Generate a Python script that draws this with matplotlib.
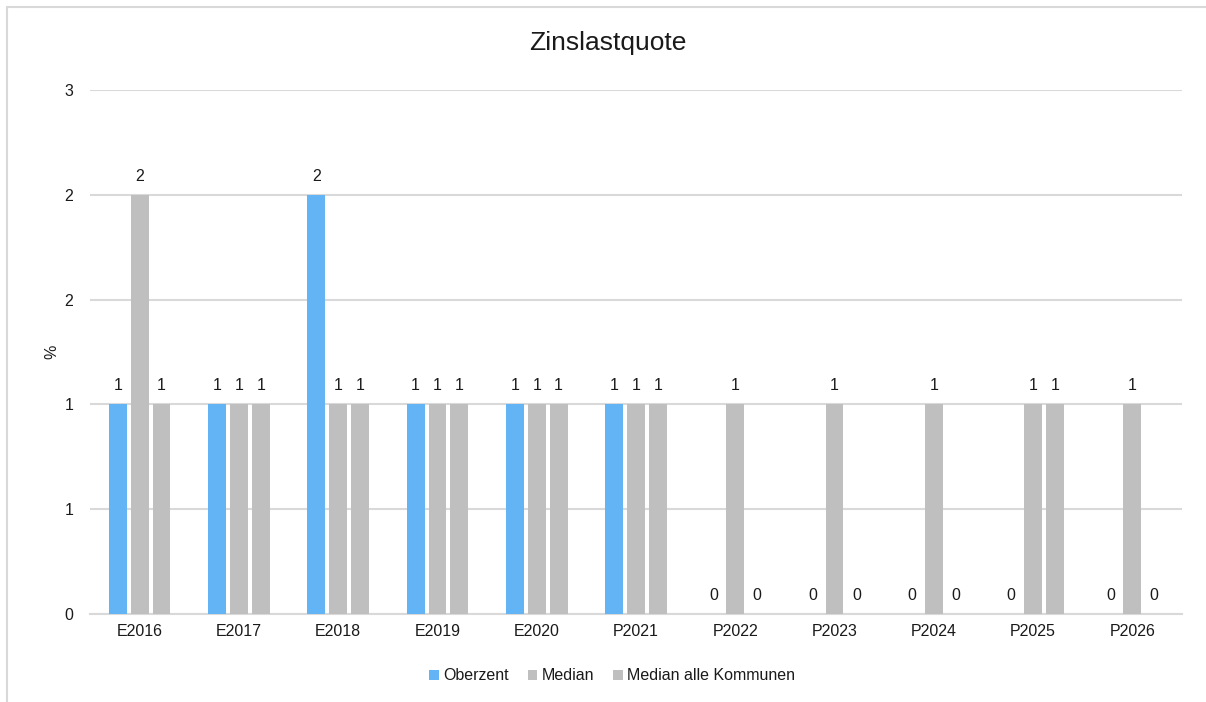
import numpy as np
import matplotlib.pyplot as plt
from matplotlib.patches import Rectangle

plt.rcParams['font.family'] = ['Liberation Sans', 'DejaVu Sans']

# data
categories = ['E2016', 'E2017', 'E2018', 'E2019', 'E2020', 'P2021',
              'P2022', 'P2023', 'P2024', 'P2025', 'P2026']
oberzent = [1, 1, 2, 1, 1, 1, 0, 0, 0, 0, 0]
median = [2, 1, 1, 1, 1, 1, 1, 1, 1, 1, 1]
median_alle = [1, 1, 1, 1, 1, 1, 0, 0, 0, 1, 0]
y_ticks = [0, 0.5, 1, 1.5, 2, 2.5]
y_tick_labels = ['0', '1', '1', '2', '2', '3']

series = [
    ('Oberzent', oberzent, '#63B4F5'),
    ('Median', median, '#BFBFBF'),
    ('Median alle Kommunen', median_alle, '#BFBFBF'),
]

text_col = '#1a1a1a'
fs = 11.5

fig = plt.figure(figsize=(12.06, 7.02), dpi=100)
# light chart border (cut off at right and bottom)
fig.patches.append(Rectangle((7 / 1206, -0.1), 1.2, 1 - 7 / 702 + 0.1,
                             transform=fig.transFigure, fill=False,
                             edgecolor='#D9D9D9', linewidth=1.5))

ax = fig.add_axes([90 / 1206, 1 - 614 / 702, 1092 / 1206, 524 / 702])

x = np.arange(len(categories))
width = 0.18
step = 0.22
for i, (name, vals, col) in enumerate(series):
    pos = x + (i - 1) * step
    ax.bar(pos, vals, width=width, color=col, label=name, zorder=3)
    for xp, v in zip(pos, vals):
        ax.annotate(f'{v:.0f}', (xp, v), xytext=(0, 8), textcoords='offset points',
                    ha='center', va='bottom', fontsize=fs, color=text_col)

ax.set_xlim(-0.5, len(categories) - 0.5)
ax.set_ylim(0, 2.5)
ax.set_yticks(y_ticks)
ax.set_yticklabels(y_tick_labels)
ax.set_xticks(x)
ax.set_xticklabels(categories)
ax.tick_params(axis='both', length=0, labelsize=fs, colors=text_col)
ax.tick_params(axis='y', pad=12)
ax.tick_params(axis='x', pad=7)
ax.grid(axis='y', color='#D9D9D9', linewidth=1.5, zorder=0)
for s in ['top', 'right', 'left']:
    ax.spines[s].set_visible(False)
ax.spines['bottom'].set_color('#D9D9D9')
ax.spines['bottom'].set_linewidth(1.5)

ax.set_ylabel('%', fontsize=fs, color=text_col)
ax.yaxis.set_label_coords((59 - 90) / 1092, 0.5)
fig.text(608 / 1206, 1 - 43 / 702, 'Zinslastquote', ha='center', va='center',
         fontsize=19, color=text_col)

fig.legend(loc='center', bbox_to_anchor=(612 / 1206, 1 - 676 / 702), ncol=3,
           frameon=False, fontsize=fs, handlelength=0.6, handleheight=0.6,
           handletextpad=0.25, columnspacing=1.2, labelcolor=text_col)

fig.savefig('out.png', dpi=100)
